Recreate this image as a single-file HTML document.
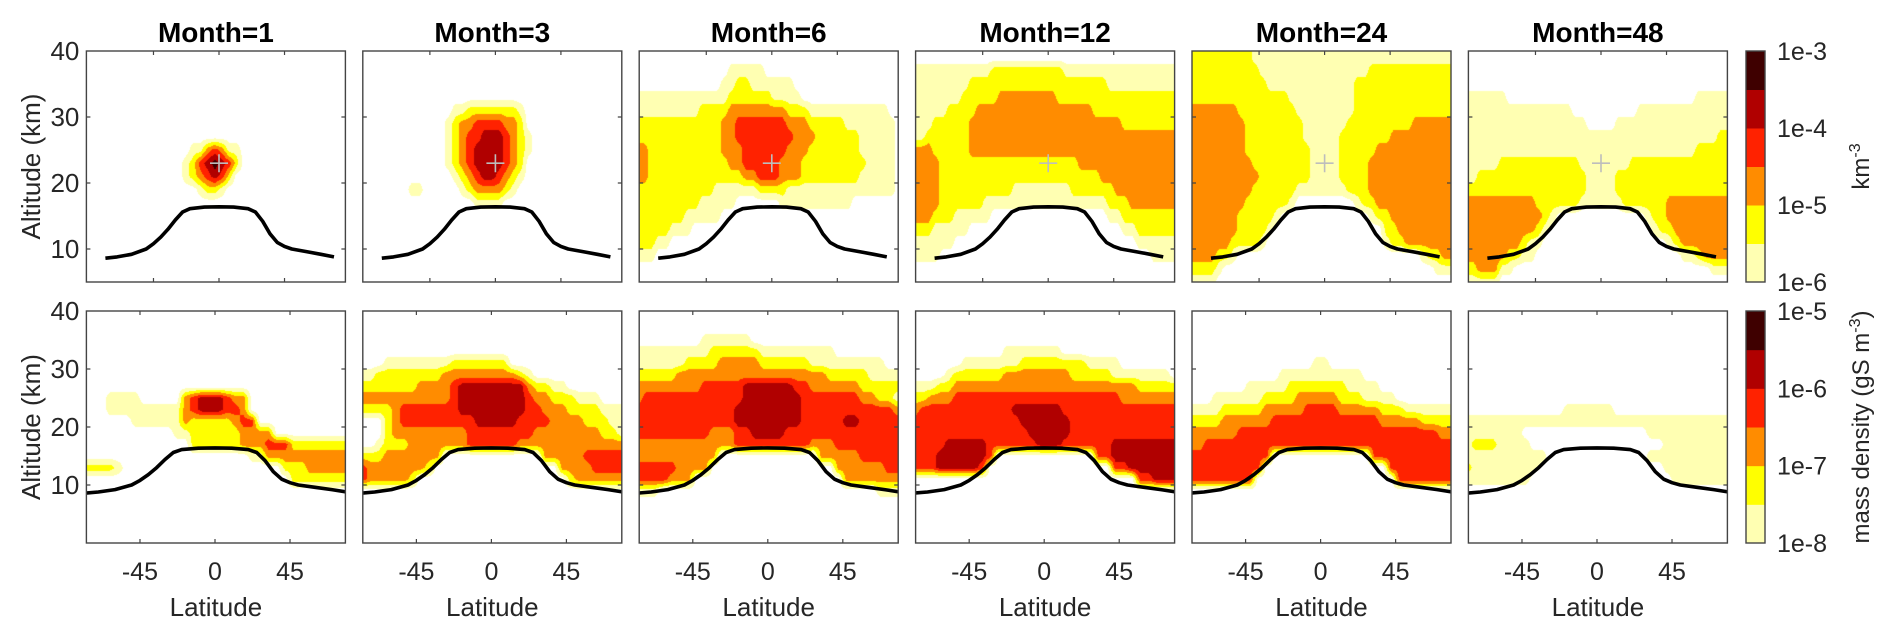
<!DOCTYPE html>
<html><head><meta charset="utf-8"><style>
html,body{margin:0;padding:0;background:#fff;}
#fig{position:relative;width:1892px;height:634px;overflow:hidden;font-family:"Liberation Sans",Arial,sans-serif;}
canvas{position:absolute;}
svg{position:absolute;left:0;top:0;}
</style></head><body>
<div id="fig">
<svg id="ov" width="1892" height="634"></svg>
</div>
<script>
// ---------- data ----------
const levelColors = ["#FFFFFF","#FFFFB2","#FFFF00","#FF8C00","#FF2200","#B00000","#3F0000"];
const months = [1,3,6,12,24,48];
const topTicks = ["1e-3","1e-4","1e-5","1e-6"];
const botTicks = ["1e-5","1e-6","1e-7","1e-8"];
const xTicks = [-45,0,45];
const yTicks = [40,30,20,10];
const tpLat = [-90,-78,-70,-60,-50,-45,-40,-35,-30,-25,-20,-10,0,10,20,25,30,35,40,45,50,60,70,79,90];
const tpAlt = [8.3,8.6,8.8,9.2,10.0,10.8,11.8,13.0,14.4,15.6,16.1,16.35,16.4,16.35,16.1,15.6,14.2,12.3,11.0,10.4,10.0,9.6,9.2,8.8,8.5];
const injLat = 0;
const injAlt = 23;
// grids: rows alt 39,37,...; columns lat -87.5..87.5 step 5; "level:c0-c1"
const topM1 = ["","","","","","","","1:14-20 3:16-18 4:17-17","1:13-20 2:14-20 3:15-19 4:15-19 5:16-18 6:17-17","1:13-19 2:14-19 3:15-18 4:16-18 5:17-17","1:15-18 2:16-17","","","","","","",""];
const topM3 = ["","","","","1:12-21 2:14-20","1:11-21 2:12-21 3:13-20 4:15-18","1:11-22 2:12-21 3:13-20 4:14-19 5:16-18","1:11-22 2:12-21 3:13-20 4:14-19 5:15-18","1:11-21 2:12-21 3:13-20 4:14-19 5:15-18","1:12-21 2:13-20 3:14-19 4:15-18 5:16-17","1:6-7 1:13-20 2:14-19 3:15-18","1:15-18","","","","","",""];
const topM6 = ["","1:12-16","1:11-20 2:13-14","1:0-21 2:12-17","1:0-33 2:8-22 3:12-19","1:0-34 2:0-27 3:11-22 4:13-19","1:0-34 2:0-29 3:11-23 4:13-20","1:0-34 2:0-29 3:0-0 3:11-22 4:14-19","1:0-34 2:0-30 3:0-0 3:12-21 4:14-18","1:0-34 2:0-29 3:0-0 3:14-21 4:16-18","1:0-34 2:0-9 2:16-19","1:8-12 1:19-28 2:0-7","1:0-10 2:0-5","1:0-6 2:0-3","1:0-3 2:0-1","1:0-1","",""];
const topM12 = ["","1:0-35 2:10-19","1:0-35 2:7-25","1:0-35 2:6-35 3:11-18","1:0-35 2:4-35 3:8-23","1:0-35 2:2-35 3:7-27","1:0-35 2:1-35 3:7-35","1:0-35 2:0-35 3:0-1 3:7-35","1:0-35 2:0-35 3:0-2 3:22-35","1:0-35 2:0-35 3:0-2 3:25-35","1:0-35 2:0-12 2:21-35 3:0-2 3:27-35","1:0-35 2:0-8 2:26-35 3:0-2 3:29-35","1:0-9 1:26-35 2:0-4 2:28-35 3:0-1","1:0-6 1:28-35 2:0-1 2:30-35","1:0-4 1:30-35","1:0-2 1:32-35","",""];
const topM24 = ["1:0-35 2:0-7","1:0-35 2:0-8 2:24-35","1:0-35 2:0-9 2:22-35","1:0-35 2:0-12 2:22-35","1:0-35 2:0-13 2:22-35 3:0-5","1:0-35 2:0-14 2:21-35 3:0-6 3:30-35","1:0-35 2:0-14 2:20-35 3:0-6 3:27-35","1:0-35 2:0-15 2:20-35 3:0-6 3:25-35","1:0-35 2:0-15 2:20-35 3:0-7 3:24-35","1:0-35 2:0-15 2:20-35 3:0-8 3:24-35","1:0-35 2:0-13 2:21-35 3:0-7 3:24-35","1:0-13 1:22-35 2:0-12 2:23-35 3:0-6 3:25-35","1:0-11 1:24-35 2:0-10 2:25-35 3:0-5 3:27-35","1:0-10 1:26-35 2:0-9 2:26-35 3:0-5 3:28-35","1:0-9 1:26-35 2:0-8 2:27-35 3:0-4 3:29-35","1:0-5 1:31-35 2:0-4 2:32-35 3:0-2 3:34-35","1:0-3 1:33-35 2:0-2","1:0-2"];
const topM48 = ["","","","1:0-4 1:31-35","1:0-13 1:23-35","1:0-15 1:20-35","1:0-35 2:34-35","1:0-35 2:31-35","1:0-35 2:4-14 2:22-35","1:0-35 2:1-15 2:20-35","1:0-35 2:0-15 2:20-35","1:0-35 2:0-14 2:21-35 3:0-8 3:27-35","1:0-11 1:24-35 2:0-10 2:25-35 3:0-9 3:27-35","1:0-10 1:25-35 2:0-9 2:26-35 3:0-8 3:28-35","1:0-9 1:27-35 2:0-7 2:28-35 3:0-6 3:29-35","1:0-8 1:29-35 2:0-6 2:31-35 3:0-4 3:32-35","1:0-5 1:33-35 2:0-3 3:1-3","1:0-3"];
const botM1 = ["","","","","","","","1:5-8 3:14-21 4:15-19 5:16-18","1:5-14 3:14-21 4:15-20 5:16-18","1:8-14 2:15-20 3:14-14 3:20-22 4:21-22","1:13-14 2:15-20 3:21-24","2:15-20 3:21-23 4:24-26 2:27-35","1:22-23 3:24-35","1:0-6 2:2-5 2:26-35 3:29-35","2:27-35","","","","",""];
const botM3 = ["","","","","1:5-19 2:13-19","1:0-22 2:4-21 3:12-20","1:0-26 2:0-24 3:9-22 4:13-21 5:14-21","1:0-30 2:0-27 3:0-24 4:13-22 5:14-21","1:0-35 2:0-30 3:6-26 4:7-23 5:14-21 2:0-5","1:0-35 2:0-31 3:6-28 4:7-24 5:16-20 0:0-4","1:0-35 2:0-32 3:6-30 4:15-22 0:0-4","1:0-35 2:5-35 3:8-35 4:15-20 0:0-3","1:0-11 1:24-35 2:0-11 2:24-35 3:5-11 3:24-35 4:29-34","1:0-10 1:26-35 2:0-10 2:26-35 3:0-9 3:26-35 4:0-2 4:30-34","2:0-8 2:27-35 3:0-7 3:28-35 4:0-2","","","","",""];
const botM6 = ["","","1:10-15","1:0-25 2:11-16","1:0-31 2:8-22 3:12-16","1:0-35 2:0-29 3:7-24","1:0-35 2:0-33 3:0-28 4:10-22 5:15-20","1:0-35 2:0-32 3:0-30 4:3-28 5:15-21","1:0-35 2:0-35 3:0-35 4:0-32 5:14-21","2:0-35 3:0-35 4:0-35 5:14-21 5:27-28","3:0-35 4:0-35 3:11-13 5:16-19","3:0-35 4:14-22 4:26-35 2:0-1","3:0-11 3:24-35 4:29-35 2:0-1","4:0-6 3:7-10 3:26-35 4:32-35","4:0-5 3:6-8 3:27-35","1:0-4 1:31-35","","","",""];
const botM12 = ["","","","1:13-19","1:8-26 2:15-22","1:6-32 2:7-25 3:13-20","1:2-35 2:5-34 3:7-28","1:0-35 2:2-35 3:4-35 4:7-26","1:0-35 2:0-35 3:0-35 4:3-35 5:14-19","2:0-35 3:0-35 4:0-35 5:15-20","4:0-35 5:16-20","4:0-35 3:0-1 5:6-10 5:26-33 5:17-19","4:0-11 4:24-35 5:5-10 5:26-33 3:0-1","4:0-10 4:26-35 5:5-9 5:28-33","4:29-35 5:31-33","","","","",""];
const botM24 = ["","","","","1:17-18","1:13-22","1:9-24 2:14-20","1:5-26 2:11-22 3:15-19","1:0-35 2:6-27 3:11-24 4:16-19","1:0-35 2:0-35 3:6-29 4:12-24","2:0-35 3:0-35 4:8-31","3:0-35 4:4-35 2:0-1","3:0-3 4:2-11 4:24-35","4:0-10 4:26-35","4:0-9 4:27-35","","","","",""];
const botM48 = ["","","","","","","","","1:14-19","1:0-35","1:0-8 1:24-35","1:0-9 1:26-35 2:3-5","1:0-11 1:24-35","1:0-10 1:26-35 2:0-2","1:0-9 1:27-35 2:0-1","1:34-35","","","",""];
const topGrids = [topM1,topM3,topM6,topM12,topM24,topM48];
const botGrids = [botM1,botM3,botM6,botM12,botM24,botM48];

// ---------- geometry ----------
const NS = "http://www.w3.org/2000/svg";
const svg = document.getElementById('ov');
const fig = document.getElementById('fig');
const PW = 259;
const rows = [
  {top:51, h:231, zero:132.6, ppd:1.456, altMax:40, altMin:5, grids:topGrids, name:'top'},
  {top:311, h:232, zero:128.6, ppd:1.667, altMax:40, altMin:0, grids:botGrids, name:'bottom'}
];
function panelLeft(i){ return 86.4 + 276.4*i; }
function parseGrid(g){
  return g.map(s=>{
    const a = new Array(36).fill(0);
    s.split(' ').filter(Boolean).forEach(seg=>{
      const p = seg.split(':'); const r = p[1].split('-').map(Number);
      for(let c=r[0];c<=r[1];c++) a[c] = +p[0];
    });
    return a;
  });
}
function hex(c){ return [parseInt(c.substr(1,2),16),parseInt(c.substr(3,2),16),parseInt(c.substr(5,2),16)]; }
const rgb = levelColors.map(hex);
function mk(tag, attrs, parent){
  const e = document.createElementNS(NS, tag);
  for(const k in attrs) e.setAttribute(k, attrs[k]);
  (parent||svg).appendChild(e); return e;
}
function txt(x,y,s,attrs,parent){
  const t = mk('text', Object.assign({x:x,y:y,fill:'#262626','font-family':'Liberation Sans, Arial, sans-serif'},attrs), parent);
  t.textContent = s; return t;
}

rows.forEach((R, ri)=>{
  const xs = lat => R.zero + lat*R.ppd;
  const ys = alt => (R.altMax - alt) * R.h/(R.altMax - R.altMin);
  R.grids.forEach((gridStr, pi)=>{
    const L = panelLeft(pi);
    const grid = parseGrid(gridStr);
    const nr = grid.length;
    const cv = document.createElement('canvas');
    cv.width = PW; cv.height = R.h;
    cv.style.left = L+'px'; cv.style.top = R.top+'px';
    
    
    fig.insertBefore(cv, svg);
    const ctx = cv.getContext('2d');
    const img = ctx.createImageData(PW, R.h);
    for(let py=0; py<R.h; py++){
      const alt = R.altMax - (py+0.5)*(R.altMax-R.altMin)/R.h;
      let fr = (39 - alt)/2; fr = Math.max(0, Math.min(nr-1, fr));
      const r0 = Math.floor(fr), r1 = Math.min(nr-1, r0+1), tr = fr - r0;
      for(let px=0; px<PW; px++){
        const lat = (px+0.5 - R.zero)/R.ppd;
        let fc = (lat + 87.5)/5; fc = Math.max(0, Math.min(35, fc));
        const c0 = Math.floor(fc), c1 = Math.min(35, c0+1), tc = fc - c0;
        let v = grid[r0][c0]*(1-tr)*(1-tc) + grid[r0][c1]*(1-tr)*tc + grid[r1][c0]*tr*(1-tc) + grid[r1][c1]*tr*tc;
        if(alt > 39 && grid[0].every(x=>x===0)) v = 0;
        const lv = Math.max(0, Math.min(6, Math.round(v)));
        const k = (py*PW+px)*4, col = rgb[lv];
        img.data[k]=col[0]; img.data[k+1]=col[1]; img.data[k+2]=col[2]; img.data[k+3]=255;
      }
    }
    ctx.putImageData(img,0,0);

    const g = mk('g', {transform:'translate('+L+','+R.top+')'});
    
    
    const clipId = 'clip'+ri+pi;
    const cp = mk('clipPath', {id:clipId}, g);
    mk('rect', {x:0,y:0,width:PW,height:R.h}, cp);
    let pts = [];
    tpLat.forEach((la,i)=>{
      if(ri===0 && (la < -78 || la > 79)) return;
      pts.push(xs(la).toFixed(1)+','+ys(tpAlt[i]).toFixed(1));
    });
    const tp = mk('polyline', {points:pts.join(' '), fill:'none', stroke:'#000', 'stroke-width':3.6, 'stroke-linejoin':'round', 'stroke-linecap':'butt', 'clip-path':'url(#'+clipId+')'}, g);
    
    
    if(ri===0){
      const cx = xs(injLat), cy = ys(injAlt);
      const cr = mk('path', {d:'M'+(cx-9)+','+cy+'H'+(cx+9)+'M'+cx+','+(cy-9)+'V'+(cy+9), stroke:'#BDBDBD', 'stroke-width':1.6, fill:'none'}, g);
      
      
    }
    xTicks.forEach(t=>{
      const x = xs(t);
      mk('path', {d:'M'+x+',0v4M'+x+','+R.h+'v-4', stroke:'#444','stroke-width':1.2}, g);
      if(ri===1){
        const tl = txt(L + x, 580, String(t), {'font-size':25,'text-anchor':'middle'});
        
        
      }
    });
    yTicks.forEach(t=>{
      if(t>=R.altMax) return;
      const y = ys(t);
      mk('path', {d:'M0,'+y+'h4M'+PW+','+y+'h-4', stroke:'#444','stroke-width':1.2}, g);
    });
    const box = mk('rect', {x:0,y:0,width:PW,height:R.h,fill:'none',stroke:'#444','stroke-width':1.4}, g);
    
    
    if(pi===0){
      yTicks.forEach(t=>{
        const yl = txt(L-7, R.top + ys(t) + 9, String(t), {'font-size':26,'text-anchor':'end'});
        
        
      });
      const cyc = R.top + R.h/2;
      const yt = txt(0,0,'Altitude (km)', {'font-size':26,'text-anchor':'middle', transform:'translate(40,'+cyc+') rotate(-90)'});
      
      
    }
    if(ri===1){
      const xt = txt(L + PW/2, 616, 'Latitude', {'font-size':26,'text-anchor':'middle'});
      
      
    }
    if(ri===0){
      const ti = txt(L + PW/2, 42, 'Month=' + months[pi], {'font-size':28,'font-weight':'bold','text-anchor':'middle',fill:'#000'});
      
      
    }
  });
  const cbx = 1746, cbw = 19;
  const cb = mk('g', {});
  
  
  const bh = R.h/6;
  for(let k=1;k<=6;k++){
    const br = mk('rect', {x:cbx, y:R.top + R.h - k*bh, width:cbw, height:bh+0.5, fill:levelColors[k]}, cb);
    
    
  }
  mk('rect', {x:cbx,y:R.top,width:cbw,height:R.h,fill:'none',stroke:'#444','stroke-width':1.4}, cb);
  const ticks = ri===0 ? topTicks : botTicks;
  ticks.forEach((s,k)=>{
    const y = R.top + k*R.h/3;
    const cl = txt(1777, y+9, s, {'font-size':25}, cb);
    
    
  });
  const cyc = R.top + R.h/2;
  const lab = mk('text', {transform:'translate(1869,'+cyc+') rotate(-90)','font-size':24,'text-anchor':'middle',fill:'#262626','font-family':'Liberation Sans, Arial, sans-serif'}, cb);
  
  
  if(ri===0){
    lab.innerHTML = 'km<tspan dy="-9" font-size="16">-3</tspan>';
  } else {
    lab.innerHTML = 'mass density (gS m<tspan dy="-9" font-size="16">-3</tspan><tspan dy="9">)</tspan>';
  }
});
</script>
</body></html>
